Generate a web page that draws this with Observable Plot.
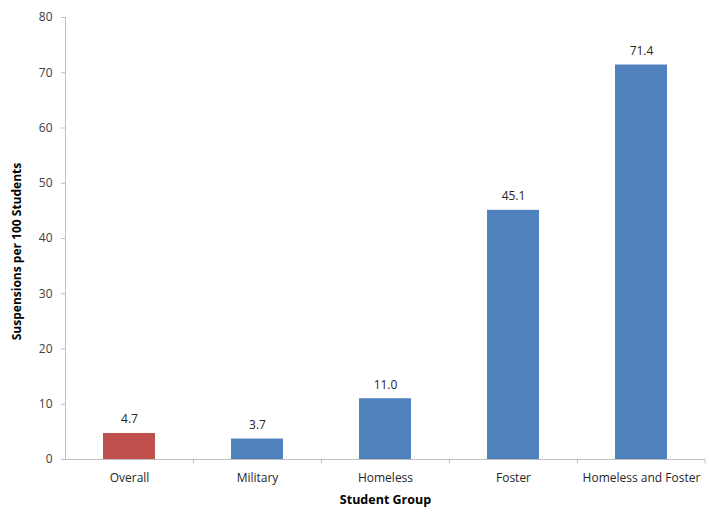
<!DOCTYPE html>
<html><head><meta charset="utf-8">
<script src="https://cdn.jsdelivr.net/npm/d3@7"></script>
<script src="https://cdn.jsdelivr.net/npm/@observablehq/plot@0.6"></script>
<style>body{margin:0;background:#fff}</style>
</head><body><div id="chart"></div>
<script>
const groups = ["Overall", "Military", "Homeless", "Foster", "Homeless and Foster"];
const rates = [4.7, 3.7, 11.0, 45.1, 71.4];
const barColors = ["#C0504D", "#4F81BD", "#4F81BD", "#4F81BD", "#4F81BD"];
const yTicks = [0, 10, 20, 30, 40, 50, 60, 70, 80];
const yTitle = "Suspensions per 100 Students";
const xTitle = "Student Group";

const data = groups.map((g, i) => ({group: g, rate: rates[i], color: barColors[i]}));
const W = 709, H = 512, mL = 65, mR = 4, mT = 17, mB = 53;
const step = (W - mL - mR) / groups.length;
const axisGray = "#bfbfbf";

const chart = Plot.plot({
  width: W, height: H,
  marginLeft: mL, marginRight: mR, marginTop: mT, marginBottom: mB,
  style: {fontFamily: "'Open Sans', sans-serif", fontSize: "12px", color: "#404040", background: "#fff"},
  x: {domain: groups, paddingInner: 0.59, paddingOuter: 0.295, label: null},
  y: {domain: [0, 80], label: null},
  marks: [
    Plot.barY(data, {x: "group", y: "rate", fill: "color"}),
    Plot.text(data, {x: "group", y: "rate", text: d => d.rate.toFixed(1), dy: -14, fill: "#262626", fontSize: 12}),
    // x axis line
    Plot.ruleY([0], {stroke: axisGray}),
    // y axis line
    Plot.ruleX([groups[0]], {dx: -step / 2, y1: 0, y2: 80, stroke: axisGray}),
    // category boundary ticks
    Plot.ruleX(groups.slice(1), {dx: -step / 2, y1: 0, y2: -0.8, stroke: axisGray}),
    Plot.ruleX([groups[groups.length - 1]], {dx: step / 2 - 0.5, y1: 0, y2: -0.8, stroke: axisGray}),
    Plot.axisY({ticks: yTicks, tickSize: 4, tickPadding: 9, stroke: axisGray, fill: "#404040", label: null, fontSize: 12}),
    Plot.axisX({tickSize: 0, tickPadding: 14, fill: "#262626", label: null, fontSize: 12}),
    Plot.text([yTitle], {frameAnchor: "left", textAnchor: "middle", rotate: -90, dx: -48, dy: 13, fontWeight: "bold", fill: "#000", fontSize: 12}),
    Plot.text([xTitle], {frameAnchor: "bottom", textAnchor: "middle", dy: 44, fontWeight: "bold", fill: "#000", fontSize: 12.5})
  ]
});
document.getElementById("chart").append(chart);
</script>
</body></html>
